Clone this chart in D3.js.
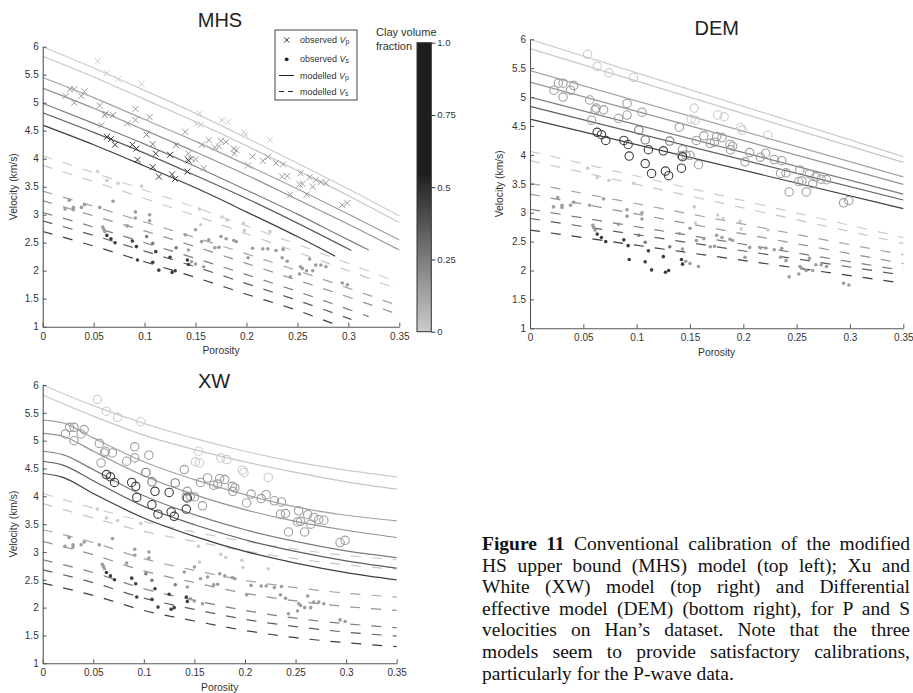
<!DOCTYPE html>
<html><head><meta charset="utf-8">
<script src="https://cdn.jsdelivr.net/npm/d3@7"></script>
<style>html,body{margin:0;padding:0;background:#fff;overflow:hidden}</style>
</head><body><svg id="fig" width="913" height="693"></svg>
<script>
// ---------- DATA ----------
const porosityTicks = [0, 0.05, 0.1, 0.15, 0.2, 0.25, 0.3, 0.35];
const velocityTicks = [1, 1.5, 2, 2.5, 3, 3.5, 4, 4.5, 5, 5.5, 6];
const clayTicks = [0, 0.25, 0.5, 0.75, 1.0];
const panelTitles = ["MHS", "DEM", "XW"];

// clay fraction of the 7 model curves (top to bottom)
const lineClay = [0, 0.02, 0.13, 0.18, 0.25, 0.35, 0.45];

// observed data (porosity, velocity) grouped by clay fraction
const obsClay = [0, 0.15, 0.25, 0.45];
const vpObs = [
  [[0.054,5.74],[0.063,5.53],[0.074,5.42],[0.097,5.34],[0.154,4.81],[0.151,4.62],[0.155,4.60],[0.176,4.69],[0.182,4.66],[0.1975,4.47],[0.199,4.43],[0.223,4.34]],
  [[0.0225,5.12],[0.0266,5.24],[0.031,5.24],[0.031,5.00],[0.038,5.12],[0.041,5.20],[0.056,4.95],[0.0577,4.60],[0.061,4.78],[0.062,4.81],[0.069,4.78],[0.083,4.63],[0.091,4.89],[0.091,4.69],[0.105,4.74],[0.140,4.48],[0.142,3.99],[0.143,4.09],[0.146,4.00],[0.150,3.99],[0.156,4.25],[0.158,3.83],[0.163,4.33],[0.169,4.20],[0.173,4.22],[0.175,4.32],[0.180,4.30],[0.1875,4.18],[0.190,4.15],[0.188,4.09],[0.2016,3.88],[0.206,4.04],[0.216,3.96],[0.221,4.03],[0.229,3.92],[0.236,3.90],[0.235,3.68],[0.240,3.69],[0.243,3.36],[0.253,3.74],[0.252,3.54],[0.255,3.55],[0.259,3.36],[0.262,3.67],[0.265,3.50],[0.268,3.62],[0.273,3.58],[0.278,3.57],[0.294,3.17],[0.299,3.21]],
  [[0.102,4.43],[0.108,4.26],[0.131,4.24]],
  [[0.063,4.39],[0.067,4.35],[0.071,4.25],[0.088,4.25],[0.092,4.18],[0.093,3.98],[0.111,4.09],[0.108,3.85],[0.114,3.68],[0.125,4.07],[0.127,3.72],[0.130,3.64],[0.142,3.77],[0.143,3.97]]
];
const vsObs = [
  [[0.054,3.77],[0.063,3.61],[0.074,3.56],[0.097,3.51],[0.154,3.10],[0.155,2.82],[0.176,2.96],[0.181,2.90],[0.197,2.85],[0.198,2.72],[0.223,2.70]],
  [[0.022,3.10],[0.026,3.26],[0.030,3.13],[0.030,3.09],[0.038,3.13],[0.041,3.18],[0.056,3.13],[0.069,3.24],[0.059,2.78],[0.060,2.74],[0.061,2.70],[0.083,2.80],[0.091,3.05],[0.091,2.94],[0.105,3.00],[0.105,2.89],[0.140,2.64],[0.143,2.37],[0.146,2.16],[0.150,2.12],[0.150,2.73],[0.156,2.52],[0.158,2.07],[0.163,2.55],[0.169,2.41],[0.173,2.42],[0.175,2.61],[0.180,2.57],[0.1875,2.54],[0.190,2.52],[0.2016,2.23],[0.206,2.40],[0.216,2.39],[0.221,2.39],[0.229,2.36],[0.236,2.38],[0.235,2.23],[0.240,2.17],[0.243,1.89],[0.253,2.07],[0.252,1.94],[0.255,2.04],[0.259,2.00],[0.262,2.21],[0.265,2.00],[0.268,2.10],[0.273,2.10],[0.278,2.07],[0.294,1.78],[0.299,1.75]],
  [[0.102,2.61],[0.108,2.49],[0.131,2.41]],
  [[0.063,2.63],[0.067,2.57],[0.071,2.50],[0.088,2.53],[0.092,2.43],[0.093,2.19],[0.111,2.34],[0.108,2.15],[0.114,2.01],[0.125,2.24],[0.127,1.97],[0.130,2.00],[0.142,2.19],[0.143,2.11]]
];

// modelled curves, [porosity, velocity]
const mhsVp = [
  [[0,6.0],[0.05,5.62],[0.1,5.22],[0.15,4.81],[0.2,4.37],[0.25,3.92],[0.3,3.46],[0.35,2.98]],
  [[0,5.83],[0.05,5.46],[0.1,5.06],[0.15,4.66],[0.2,4.23],[0.25,3.79],[0.3,3.34],[0.35,2.86]],
  [[0,5.45],[0.05,5.09],[0.1,4.70],[0.15,4.31],[0.2,3.89],[0.25,3.46],[0.3,3.01],[0.35,2.55]],
  [[0,5.26],[0.05,4.90],[0.1,4.51],[0.15,4.12],[0.2,3.71],[0.25,3.27],[0.3,2.83],[0.35,2.37]],
  [[0,4.99],[0.05,4.63],[0.1,4.26],[0.15,3.86],[0.2,3.44],[0.25,3.01],[0.3,2.55],[0.32,2.37]],
  [[0,4.82],[0.05,4.47],[0.1,4.10],[0.15,3.70],[0.2,3.29],[0.25,2.85],[0.303,2.36]],
  [[0,4.60],[0.05,4.25],[0.1,3.87],[0.15,3.48],[0.2,3.05],[0.25,2.61],[0.287,2.26]]
];
const mhsVs = [
  [[0,4.05],[0.05,3.75],[0.1,3.44],[0.15,3.13],[0.2,2.80],[0.25,2.47],[0.3,2.13],[0.35,1.78]],
  [[0,3.88],[0.05,3.59],[0.1,3.29],[0.15,2.98],[0.2,2.66],[0.25,2.33],[0.3,2.00],[0.35,1.66]],
  [[0,3.42],[0.05,3.15],[0.1,2.87],[0.15,2.59],[0.2,2.30],[0.25,2.00],[0.3,1.69],[0.35,1.37]],
  [[0,3.25],[0.05,2.98],[0.1,2.71],[0.15,2.43],[0.2,2.13],[0.25,1.83],[0.3,1.53],[0.35,1.21]],
  [[0,3.04],[0.05,2.78],[0.1,2.50],[0.15,2.22],[0.2,1.93],[0.25,1.63],[0.3,1.31],[0.32,1.18]],
  [[0,2.89],[0.05,2.63],[0.1,2.35],[0.15,2.07],[0.2,1.77],[0.25,1.47],[0.303,1.13]],
  [[0,2.70],[0.05,2.44],[0.1,2.16],[0.15,1.88],[0.2,1.58],[0.25,1.29],[0.287,1.04]]
];
const demVp = [
  [[0,6.0],[0.35,3.97]], [[0,5.84],[0.35,3.87]], [[0,5.46],[0.35,3.62]], [[0,5.26],[0.35,3.49]],
  [[0,5.0],[0.35,3.32]], [[0,4.84],[0.35,3.22]], [[0,4.62],[0.35,3.07]]
];
const demVs = [
  [[0,4.06],[0.35,2.57]], [[0,3.90],[0.35,2.47]], [[0,3.51],[0.35,2.27]], [[0,3.32],[0.35,2.12]],
  [[0,3.06],[0.35,2.0]], [[0,2.90],[0.35,1.92]], [[0,2.70],[0.35,1.78]]
];
const xwVp = [
  [[0,6.0],[0.05,5.63],[0.1,5.31],[0.15,5.04],[0.2,4.81],[0.25,4.62],[0.3,4.47],[0.35,4.35]],
  [[0,5.82],[0.05,5.44],[0.1,5.10],[0.15,4.84],[0.2,4.62],[0.25,4.43],[0.3,4.26],[0.35,4.13]],
  [[0,5.37],[0.02,5.32],[0.05,5.05],[0.1,4.62],[0.15,4.30],[0.2,4.03],[0.25,3.81],[0.3,3.66],[0.35,3.56]],
  [[0,5.13],[0.02,5.08],[0.05,4.81],[0.1,4.37],[0.15,4.03],[0.2,3.76],[0.25,3.55],[0.3,3.39],[0.35,3.26]],
  [[0,4.81],[0.02,4.75],[0.05,4.48],[0.1,4.01],[0.15,3.67],[0.2,3.40],[0.25,3.19],[0.3,3.02],[0.35,2.90]],
  [[0,4.63],[0.02,4.56],[0.05,4.28],[0.1,3.82],[0.15,3.49],[0.2,3.22],[0.25,3.01],[0.3,2.84],[0.35,2.71]],
  [[0,4.41],[0.02,4.34],[0.05,4.05],[0.1,3.61],[0.15,3.28],[0.2,3.01],[0.25,2.80],[0.3,2.63],[0.35,2.50]]
];
const xwVs = [
  [[0,4.05],[0.05,3.79],[0.1,3.55],[0.15,3.36],[0.2,3.19],[0.25,3.05],[0.3,2.94],[0.35,2.86]],
  [[0,3.87],[0.05,3.61],[0.1,3.37],[0.15,3.19],[0.2,3.02],[0.25,2.88],[0.3,2.77],[0.35,2.69]],
  [[0,3.40],[0.05,3.17],[0.1,2.88],[0.15,2.67],[0.2,2.49],[0.25,2.36],[0.3,2.26],[0.35,2.19]],
  [[0,3.19],[0.05,2.95],[0.1,2.66],[0.15,2.45],[0.2,2.26],[0.25,2.12],[0.3,2.02],[0.35,1.95]],
  [[0,2.86],[0.05,2.63],[0.1,2.34],[0.15,2.13],[0.2,1.95],[0.25,1.81],[0.3,1.71],[0.35,1.64]],
  [[0,2.68],[0.05,2.45],[0.1,2.17],[0.15,1.97],[0.2,1.79],[0.25,1.66],[0.3,1.56],[0.35,1.49]],
  [[0,2.44],[0.05,2.22],[0.1,1.95],[0.15,1.76],[0.2,1.59],[0.25,1.46],[0.3,1.37],[0.35,1.30]]
];

const legendLabels = [["observed ","V","p"],["observed ","V","s"],["modelled ","V","p"],["modelled ","V","s"]];
const captionLines = [
  "Figure 11 Conventional calibration of the modified",
  "HS upper bound (MHS) model (top left); Xu and",
  "White (XW) model (top right) and Differential",
  "effective model (DEM) (bottom right), for P and S",
  "velocities on Han\u2019s dataset. Note that the three",
  "models seem to provide satisfactory calibrations,",
  "particularly for the P-wave data."
];

// ---------- DRAWING ----------
const svg = d3.select("#fig");
svg.append("rect").attr("width",913).attr("height",693).attr("fill","#fff");
const SANS = "'Liberation Sans', Arial, sans-serif";
const clayColor = d3.scaleLinear().domain([0,0.55,1]).range(["#cccccc","#1e1e1e","#1e1e1e"]).clamp(true);

const panels = [
  {title:panelTitles[0], left:42.7, right:399.3, top:46.7, bottom:326.7, tx:220, ty:27, ylx:13, marker:"x", vp:mhsVp, vs:mhsVs},
  {title:panelTitles[1], left:530, right:903.3, top:39.3, bottom:328.3, tx:716.7, ty:35, ylx:499, marker:"o", vp:demVp, vs:demVs},
  {title:panelTitles[2], left:42.7, right:396.7, top:385, bottom:663.3, tx:214, ty:387.5, ylx:13, marker:"o", vp:xwVp, vs:xwVs}
];

const fmtX = d => d === 0 ? "0" : String(+d.toFixed(2));

panels.forEach((p, pi) => {
  const x = d3.scaleLinear().domain([0,0.35]).range([p.left,p.right]);
  const y = d3.scaleLinear().domain([1,6]).range([p.bottom,p.top]);
  const g = svg.append("g");
  const clipId = "clip"+pi;
  svg.append("clipPath").attr("id",clipId).append("rect")
    .attr("x",p.left).attr("y",p.top-2).attr("width",p.right-p.left+1).attr("height",p.bottom-p.top+2);
  const plot = g.append("g").attr("clip-path",`url(#${clipId})`);
  const line = d3.line().x(d=>x(d[0])).y(d=>y(d[1])).curve(d3.curveMonotoneX);

  p.vs.forEach((ln,i)=>{
    plot.append("path").attr("d",line(ln)).attr("fill","none")
      .attr("stroke",clayColor(lineClay[i])).attr("stroke-width",1.2)
      .attr("stroke-dasharray","10,11");
  });
  p.vp.forEach((ln,i)=>{
    plot.append("path").attr("d",line(ln)).attr("fill","none")
      .attr("stroke",clayColor(lineClay[i])).attr("stroke-width",1.2);
  });
  vsObs.forEach((grp,k)=>{
    plot.selectAll(null).data(grp).enter().append("circle")
      .attr("cx",d=>x(d[0])).attr("cy",d=>y(d[1])).attr("r",1.8)
      .attr("fill",clayColor(obsClay[k]));
  });
  vpObs.forEach((grp,k)=>{
    const c = clayColor(obsClay[k]);
    if (p.marker === "x") {
      plot.selectAll(null).data(grp).enter().append("path")
        .attr("d",d=>{const cx=x(d[0]),cy=y(d[1]),s=3;return `M${cx-s},${cy-s}L${cx+s},${cy+s}M${cx-s},${cy+s}L${cx+s},${cy-s}`;})
        .attr("stroke",c).attr("stroke-width",1).attr("fill","none");
    } else {
      plot.selectAll(null).data(grp).enter().append("circle")
        .attr("cx",d=>x(d[0])).attr("cy",d=>y(d[1])).attr("r",4.2)
        .attr("fill","none").attr("stroke",c).attr("stroke-width",1.1);
    }
  });

  // axes
  const xa = g.append("g").attr("transform",`translate(0,${p.bottom})`)
    .call(d3.axisBottom(x).tickValues(porosityTicks).tickFormat(fmtX).tickSize(-4).tickSizeOuter(0).tickPadding(6));
  const ya = g.append("g").attr("transform",`translate(${p.left},0)`)
    .call(d3.axisLeft(y).tickValues(velocityTicks).tickFormat(d=>String(d)).tickSize(-4).tickSizeOuter(0).tickPadding(4));
  [xa,ya].forEach(a=>{
    a.select(".domain").attr("stroke","#555").attr("stroke-width",1.1);
    a.selectAll(".tick line").attr("stroke","#555");
    a.selectAll("text").attr("fill","#333").attr("font-size",10).attr("font-family",SANS);
  });
  g.append("text").attr("x",(p.left+p.right)/2).attr("y",p.bottom+27.5)
    .attr("text-anchor","middle").attr("font-family",SANS).attr("font-size",10.3).attr("fill","#333").text("Porosity");
  g.append("text").attr("transform",`translate(${p.ylx},${(p.top+p.bottom)/2}) rotate(-90)`)
    .attr("text-anchor","middle").attr("dy","0.35em").attr("font-family",SANS).attr("font-size",10.3).attr("fill","#333").text("Velocity (km/s)");
  g.append("text").attr("x",p.tx).attr("y",p.ty).attr("text-anchor","middle")
    .attr("font-family",SANS).attr("font-size",20).attr("fill","#222").text(p.title);
});

// legend (MHS panel)
const lg = svg.append("g");
lg.append("rect").attr("x",275).attr("y",30).attr("width",82).attr("height",70)
  .attr("fill","#fff").attr("stroke","#444").attr("stroke-width",1);
const legY = [40, 59.3, 75.5, 91.5];
lg.append("path").attr("d",`M${284.2},${legY[0]-2.5}L${289.2},${legY[0]+2.5}M${284.2},${legY[0]+2.5}L${289.2},${legY[0]-2.5}`).attr("stroke","#222").attr("stroke-width",1);
lg.append("circle").attr("cx",286.7).attr("cy",legY[1]).attr("r",1.9).attr("fill","#222");
lg.append("line").attr("x1",279).attr("x2",294).attr("y1",legY[2]).attr("y2",legY[2]).attr("stroke","#222").attr("stroke-width",1);
lg.append("line").attr("x1",279).attr("x2",295).attr("y1",legY[3]).attr("y2",legY[3]).attr("stroke","#222").attr("stroke-width",1).attr("stroke-dasharray","5,4");
legendLabels.forEach((lab,i)=>{
  const t = lg.append("text").attr("x",300).attr("y",legY[i]).attr("dy","0.35em")
    .attr("font-family",SANS).attr("font-size",9).attr("fill","#333");
  t.append("tspan").text(lab[0]);
  t.append("tspan").attr("font-style","italic").text(lab[1]);
  t.append("tspan").attr("font-size",7).attr("dy",1).text(lab[2]);
});

// colorbar
const cb = svg.append("g");
const cbY = d3.scaleLinear().domain([0,1]).range([331.7,42.7]);
const grad = svg.append("defs").append("linearGradient").attr("id","claygrad")
  .attr("x1",0).attr("y1",1).attr("x2",0).attr("y2",0);
d3.range(0,1.0001,0.05).forEach(v=>{
  grad.append("stop").attr("offset",v).attr("stop-color",clayColor(v));
});
cb.append("rect").attr("x",417).attr("y",cbY(1)).attr("width",14.3).attr("height",cbY(0)-cbY(1))
  .attr("fill","url(#claygrad)").attr("stroke","#333").attr("stroke-width",1);
const cba = cb.append("g").attr("transform","translate(431.3,0)")
  .call(d3.axisRight(cbY).tickValues(clayTicks).tickFormat(d=>d===1?"1.0":String(d)).tickSize(4).tickSizeOuter(0).tickPadding(2));
cba.select(".domain").remove();
cba.selectAll(".tick line").attr("stroke","#333");
cba.selectAll("text").attr("fill","#333").attr("font-size",9.5).attr("font-family",SANS);
cb.append("text").attr("x",376).attr("y",36).attr("font-family",SANS).attr("font-size",11).attr("fill","#333").text("Clay volume");
cb.append("text").attr("x",376).attr("y",49.5).attr("font-family",SANS).attr("font-size",11).attr("fill","#333").text("fraction");

// caption (justified, kept inside the page)
const capWidth = 428;
const cap = svg.append("g").attr("font-family","'Liberation Serif','Times New Roman',serif").attr("font-size",19.5).attr("fill","#111");
captionLines.forEach((ln,i)=>{
  const t = cap.append("text").attr("x",482).attr("y",550+i*21.6);
  if (i===0) {
    t.append("tspan").attr("font-weight","bold").text("Figure 11");
    t.append("tspan").text(ln.slice(9));
  } else t.text(ln);
  if (i < captionLines.length-1) {
    const w = t.node().getComputedTextLength();
    const n = (ln.match(/ /g)||[]).length;
    t.attr("word-spacing", Math.max(0,(capWidth-w)/n));
  }
});
</script></body></html>
